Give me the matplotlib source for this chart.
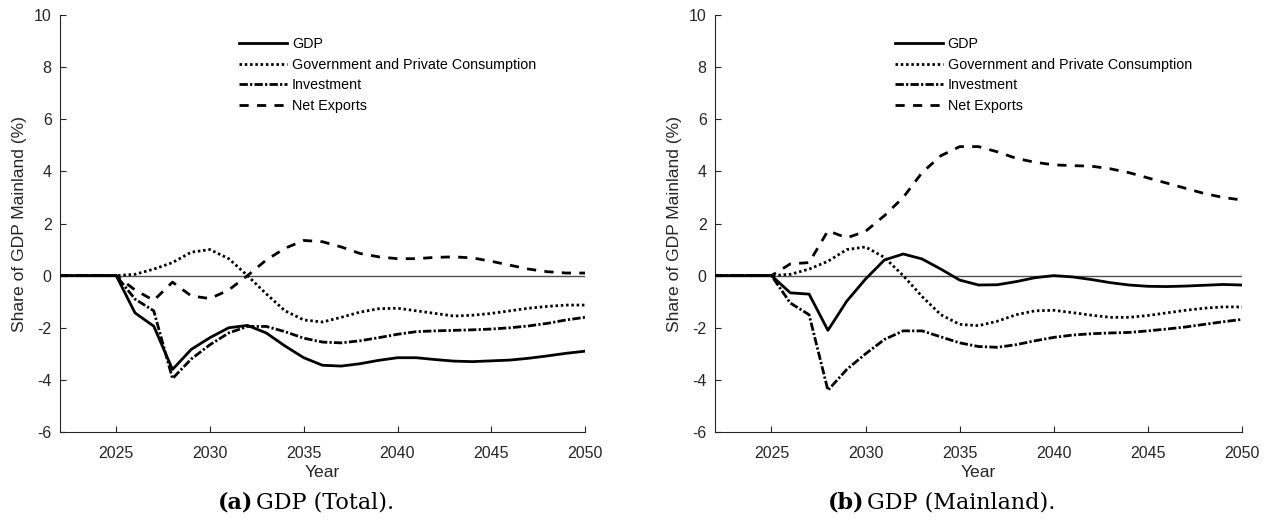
import matplotlib
matplotlib.use("Agg")
import matplotlib.pyplot as plt

years = list(range(2022, 2051))

# Panel (a): GDP (Total)
gdp_total = [0, 0, 0, 0, -1.43, -1.94, -3.6, -2.83, -2.38, -2.0, -1.91, -2.2, -2.7, -3.15,
             -3.44, -3.47, -3.38, -3.25, -3.15, -3.15, -3.22, -3.28, -3.3, -3.27, -3.24,
             -3.17, -3.08, -2.98, -2.9]
cons_total = [0, 0, 0, 0, 0.05, 0.25, 0.5, 0.9, 1.0, 0.65, 0.0, -0.7, -1.35, -1.7,
              -1.78, -1.6, -1.4, -1.27, -1.25, -1.35, -1.45, -1.55, -1.52, -1.45, -1.35,
              -1.25, -1.18, -1.13, -1.13]
inv_total = [0, 0, 0, 0, -0.9, -1.35, -3.95, -3.2, -2.65, -2.2, -1.95, -1.95, -2.15, -2.4,
             -2.55, -2.58, -2.5, -2.38, -2.25, -2.15, -2.12, -2.1, -2.08, -2.05, -2.0,
             -1.93, -1.83, -1.7, -1.6]
nx_total = [0, 0, 0, 0, -0.55, -0.95, -0.25, -0.78, -0.88, -0.55, 0.0, 0.6, 1.05, 1.35,
            1.3, 1.1, 0.85, 0.72, 0.65, 0.65, 0.7, 0.72, 0.68, 0.55, 0.4, 0.25, 0.15, 0.1, 0.1]

# Panel (b): GDP (Mainland)
gdp_main = [0, 0, 0, 0, -0.66, -0.71, -2.1, -0.98, -0.13, 0.6, 0.83, 0.64, 0.25, -0.17,
            -0.36, -0.35, -0.23, -0.08, 0.0, -0.05, -0.15, -0.27, -0.36, -0.41, -0.42,
            -0.4, -0.37, -0.34, -0.36]
cons_main = [0, 0, 0, 0, 0.05, 0.25, 0.55, 1.0, 1.1, 0.7, 0.0, -0.8, -1.5, -1.87,
             -1.92, -1.75, -1.5, -1.35, -1.33, -1.42, -1.52, -1.6, -1.6, -1.53, -1.43,
             -1.33, -1.25, -1.2, -1.2]
inv_main = [0, 0, 0, 0, -1.05, -1.5, -4.4, -3.6, -3.0, -2.45, -2.12, -2.12, -2.35, -2.58,
            -2.72, -2.75, -2.65, -2.5, -2.37, -2.28, -2.23, -2.2, -2.18, -2.12, -2.05,
            -1.97, -1.87, -1.77, -1.68]
nx_main = [0, 0, 0, 0, 0.45, 0.5, 1.72, 1.45, 1.7, 2.3, 3.0, 3.95, 4.6, 4.95,
           4.95, 4.75, 4.5, 4.35, 4.25, 4.22, 4.2, 4.1, 3.95, 3.75, 3.55, 3.35, 3.15, 3.0, 2.9]

labels = ['GDP', 'Government and Private Consumption', 'Investment', 'Net Exports']
captions = [('(a)', 'GDP (Total).'), ('(b)', 'GDP (Mainland).')]

plt.rcParams['font.family'] = ['Liberation Sans', 'DejaVu Sans']
plt.rcParams['axes.unicode_minus'] = False

fig = plt.figure(figsize=(12.72, 5.22), dpi=100)
W, H = 1272, 522
# axes boxes in pixels (left, right), caption split point in pixels
ax_boxes = [(60, 585), (715, 1242)]
cap_split = [253, 864]
top, bottom = 15, 432

panels = [
    (gdp_total, cons_total, inv_total, nx_total),
    (gdp_main, cons_main, inv_main, nx_main),
]
styles = [
    dict(linestyle='-', linewidth=2.0),
    dict(linestyle=(0, (0.9, 1.0)), linewidth=2.0),
    dict(linestyle=(0, (3.0, 0.8, 0.8, 0.8)), linewidth=2.0),
    dict(linestyle=(0, (3.3, 3.0)), linewidth=2.0),
]

gray = '#262626'
for i, (x0, x1) in enumerate(ax_boxes):
    ax = fig.add_axes([x0 / W, 1 - bottom / H, (x1 - x0) / W, (bottom - top) / H])
    ax.axhline(0, color='#505050', linewidth=1.0, zorder=1)
    handles = []
    for series, lab, st in zip(panels[i], labels, styles):
        h, = ax.plot(years, series, color='black', label=lab, zorder=3, **st)
        handles.append(h)
    ax.set_xlim(2022, 2050)
    ax.set_ylim(-6, 10)
    ax.set_xticks([2025, 2030, 2035, 2040, 2045, 2050])
    ax.set_yticks(range(-6, 11, 2))
    ax.spines['top'].set_visible(False)
    ax.spines['right'].set_visible(False)
    for s in ('left', 'bottom'):
        ax.spines[s].set_color(gray)
        ax.spines[s].set_linewidth(0.8)
    ax.tick_params(direction='in', length=4, width=0.8, colors=gray, labelsize=11.5)
    ax.tick_params(axis='x', pad=10)
    ax.tick_params(axis='y', pad=6)
    ax.set_xlabel('Year', fontsize=12.6, color=gray, labelpad=3)
    ax.set_ylabel('Share of GDP Mainland (%)', fontsize=12.6, color=gray, labelpad=5)
    ax.legend(handles=handles, loc='upper left', bbox_to_anchor=(0.341, 0.948), frameon=False,
              fontsize=10.3, handlelength=3.35, handletextpad=0.35, labelspacing=0.48,
              borderaxespad=0, borderpad=0)
    sx = cap_split[i] / W
    fig.text(sx, 1 - 503 / H, captions[i][0], ha='right', va='center',
             fontsize=16, family='DejaVu Serif', fontweight='bold')
    fig.text(sx + 3 / W, 1 - 503 / H, captions[i][1], ha='left', va='center',
             fontsize=16, family='DejaVu Serif')

fig.savefig('out.png', dpi=100)
